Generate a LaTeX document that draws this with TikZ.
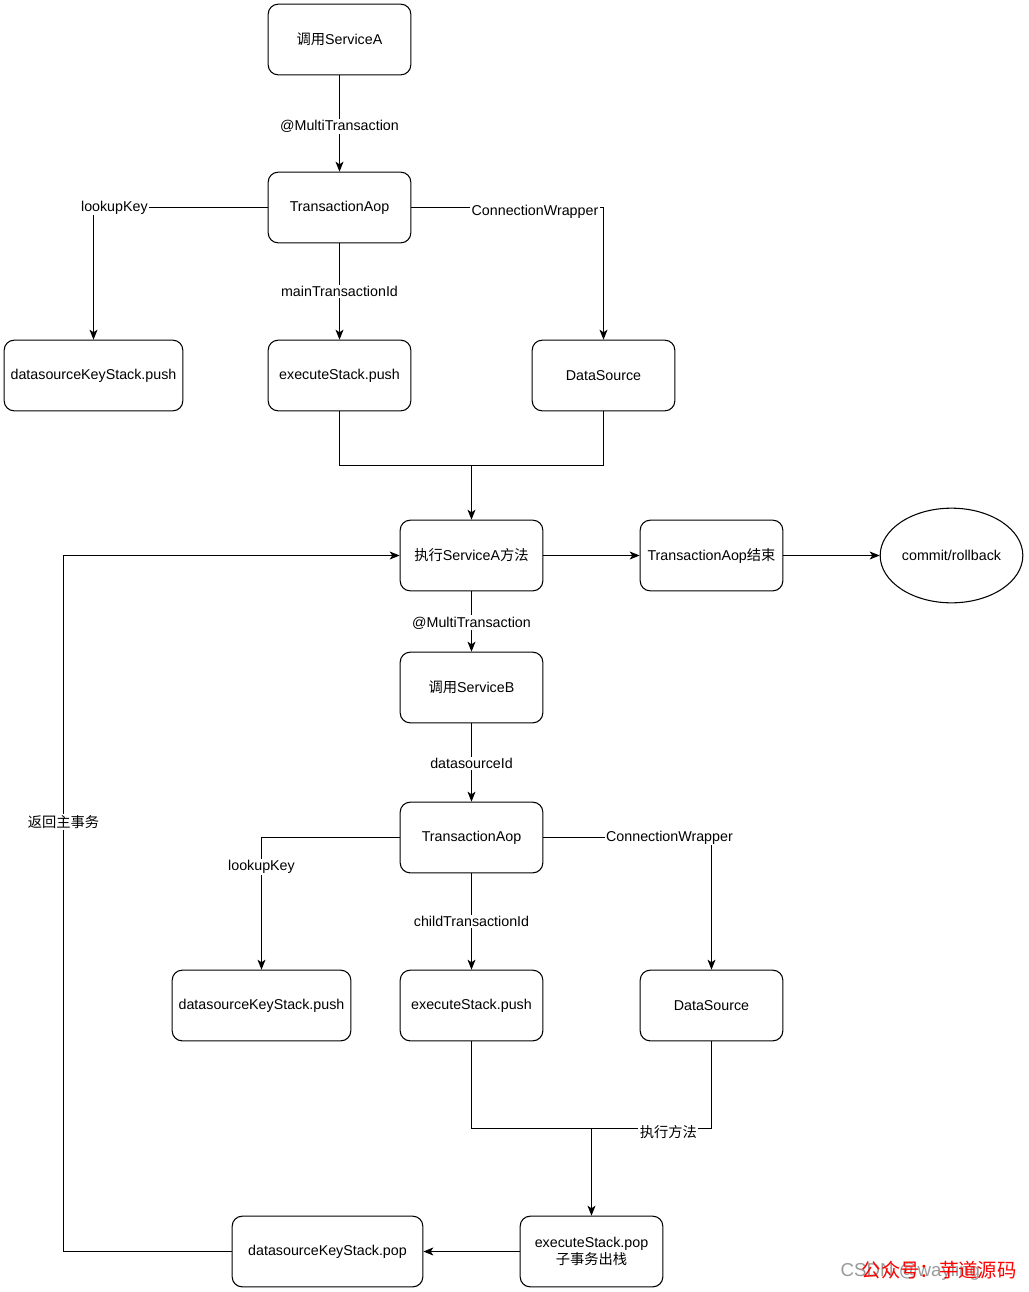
\documentclass[tikz,border=0pt]{standalone}
\usepackage{fontspec}
\setmainfont{Liberation Sans}
\newfontfamily\cjk{Noto Sans CJK SC}
\usetikzlibrary{arrows.meta,shapes.geometric}

\tikzset{
  box/.style={draw, line width=0.8pt, rounded corners=7.5pt, minimum width=107pt, minimum height=53pt, align=center, inner sep=1pt},
  lbl/.style={fill=white, inner sep=1pt},
  line/.style={line width=0.8pt},
  arr/.style={line, -{Stealth[length=7.5pt,width=6pt,inset=2pt]}}
}

\begin{document}
\begin{tikzpicture}[x=0.75pt, y=-0.75pt, font=\fontsize{10.7}{12.5}\selectfont]
            \useasboundingbox (0,0) rectangle (1028,1292);
            % top part, service A
            \node[box] (callA) at (339.5,39.5) {{\cjk 调用}ServiceA};
            \node[box] (aopA) at (339.5,207.5) {TransactionAop};
            \node[box, minimum width=134pt] (dksA) at (93.5,375.5) {datasourceKeyStack.push};
            \node[box] (esA) at (339.5,375.5) {executeStack.push};
            \node[box] (dsA) at (603.5,375.5) {DataSource};
            \node[box] (execA) at (471.5,555.5) {{\cjk 执行}ServiceA{\cjk 方法}};
            \node[box] (aopEnd) at (711.5,555.5) {TransactionAop{\cjk 结束}};
            \node[draw, line, ellipse, inner sep=0pt, minimum width=107pt, minimum height=71pt] (commit) at (951.5,555.5) {commit/rollback};
            % service B
            \node[box] (callB) at (471.5,687.5) {{\cjk 调用}ServiceB};
            \node[box] (aopB) at (471.5,837.5) {TransactionAop};
            \node[box, minimum width=134pt] (dksB) at (261.5,1005.5) {datasourceKeyStack.push};
            \node[box] (esB) at (471.5,1005.5) {executeStack.push};
            \node[box] (dsB) at (711.5,1005.5) {DataSource};
            \node[box] (popB) at (591.5,1251.5) {executeStack.pop\\[0.5pt]{\cjk 子事务出栈}};
            \node[box, minimum width=143pt] (dksPop) at (327.5,1251.5) {datasourceKeyStack.pop};
            \coordinate (joinA) at (471.5,465.5);
            \coordinate (joinB) at (591.5,1128.5);

            \draw[arr] (callA) -- node[lbl, yshift=-2pt] {@MultiTransaction} (aopA);
            \draw[arr] (aopA.west) -| node[lbl, pos=0.44] {lookupKey} (dksA.north);
            \draw[arr] (aopA) -- node[lbl] {mainTransactionId} (esA);
            \draw[arr] (aopA.east) -| (dsA.north);
            \node[lbl] (cwA) at (535,212) {ConnectionWrapper};
            \draw[line] (esA.south) |- (joinA);
            \draw[line] (dsA.south) |- (joinA);
            \draw[arr] (joinA) -- (execA.north);
            \draw[arr] (execA) -- (aopEnd);
            \draw[arr] (aopEnd) -- (commit);

            \draw[arr] (execA) -- node[lbl, yshift=-1pt] {@MultiTransaction} (callB);
            \draw[arr] (callB) -- node[lbl, yshift=-1pt] {datasourceId} (aopB);
            \draw[arr] (aopB.west) -| node[lbl, pos=0.61] {lookupKey} (dksB.north);
            \draw[arr] (aopB) -- node[lbl] {childTransactionId} (esB);
            \draw[arr] (aopB.east) -| node[lbl, pos=0.375] {ConnectionWrapper} (dsB.north);
            \draw[line] (esB.south) |- (joinB);
            \draw[line] (dsB.south) |- node[lbl, pos=0.68, yshift=-3pt] {\cjk 执行方法} (joinB);
            \draw[arr] (joinB) -- (popB.north);
            \draw[arr] (popB) -- (dksPop);
            \draw[arr] (dksPop.west) -- (63.5,1251.5) -- node[lbl, pos=0.617] {\cjk 返回主事务} (63.5,555.5) -- (execA.west);

            % watermark
            \node[anchor=west, text=black!40, font=\fontsize{14}{16}\selectfont] (wm) at (836,1272) {CSDN @wayling};
            \node[anchor=west, text=red, font=\cjk\fontsize{14.5}{16}\selectfont] (gzh) at (857,1270) {公众号：芋道源码};
          \end{tikzpicture}
\end{document}
